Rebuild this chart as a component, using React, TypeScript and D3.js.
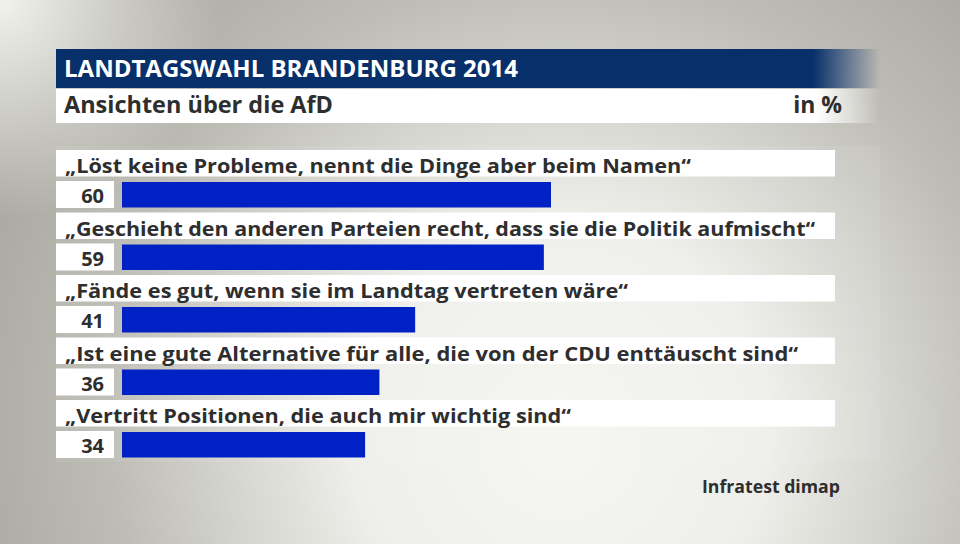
import React from "react";
import * as d3 from "d3";

const title = "LANDTAGSWAHL BRANDENBURG 2014";
const subtitle = "Ansichten über die AfD";
const unitLabel = "in %";
const source = "Infratest dimap";

const categories = [
  "„Löst keine Probleme, nennt die Dinge aber beim Namen“",
  "„Geschieht den anderen Parteien recht, dass sie die Politik aufmischt“",
  "„Fände es gut, wenn sie im Landtag vertreten wäre“",
  "„Ist eine gute Alternative für alle, die von der CDU enttäuscht sind“",
  "„Vertritt Positionen, die auch mir wichtig sind“",
];
const values = [60, 59, 41, 36, 34];
// measured text widths of the labels in the reference
const labelWidths = [626, 750, 563, 733, 506];

const W = 960;
const H = 544;
const FONT = "'Open Sans', 'DejaVu Sans', sans-serif";
const TEXT = "#2e2e2e";
const BAR = "#0022c4";
const NAVY = "#072f6a";

export default function App() {
  const x = d3.scaleLinear().domain([0, 60]).range([122, 551]);
  const y = d3
    .scaleBand<string>()
    .domain(categories)
    .range([150, 150 + 62.5 * categories.length])
    .paddingInner(0)
    .paddingOuter(0);

  return (
    <svg
      width={W}
      height={H}
      style={{ position: "absolute", left: 0, top: 0, display: "block" }}
    >
      <defs>
        <radialGradient
          id="bg"
          gradientUnits="userSpaceOnUse"
          cx={560}
          cy={420}
          r={600}
          fx={560}
          fy={440}
        >
          <stop offset="0" stopColor="#f6f6f2" />
          <stop offset="0.35" stopColor="#eeeeea" />
          <stop offset="0.75" stopColor="#bdbcb5" />
          <stop offset="1" stopColor="#abaaa2" />
        </radialGradient>
        <radialGradient
          id="spot"
          gradientUnits="userSpaceOnUse"
          cx={0}
          cy={0}
          r={220}
        >
          <stop offset="0" stopColor="#fafaf6" stopOpacity={0.9} />
          <stop offset="1" stopColor="#fafaf6" stopOpacity={0} />
        </radialGradient>
        <linearGradient id="navyFade" x1="0" x2="1" y1="0" y2="0">
          <stop offset="0" stopColor={NAVY} stopOpacity={1} />
          <stop offset={(813 - 56) / (880 - 56)} stopColor={NAVY} stopOpacity={1} />
          <stop offset="1" stopColor={NAVY} stopOpacity={0} />
        </linearGradient>
        <linearGradient id="whiteFade" x1="0" x2="1" y1="0" y2="0">
          <stop offset="0" stopColor="#fff" stopOpacity={1} />
          <stop offset={(815 - 56) / (880 - 56)} stopColor="#fff" stopOpacity={1} />
          <stop offset="1" stopColor="#fff" stopOpacity={0} />
        </linearGradient>
      </defs>
      <rect x={0} y={0} width={W} height={H} fill="url(#bg)" />
      <rect x={0} y={0} width={W} height={H} fill="url(#spot)" />

      {/* header */}
      <rect x={56} y={49} width={824} height={39} fill="url(#navyFade)" />
      <text
        x={64}
        y={77}
        fill="#fff"
        fontFamily={FONT}
        fontWeight={700}
        fontSize={24}
        textLength={454}
        lengthAdjust="spacingAndGlyphs"
      >
        {title}
      </text>
      <rect x={56} y={89} width={824} height={34} fill="url(#whiteFade)" />
      <text
        x={64}
        y={113}
        fill={TEXT}
        fontFamily={FONT}
        fontWeight={700}
        fontSize={23}
        textLength={269}
        lengthAdjust="spacingAndGlyphs"
      >
        {subtitle}
      </text>
      <text
        x={842}
        y={113}
        fill={TEXT}
        fontFamily={FONT}
        fontWeight={700}
        fontSize={23}
        textAnchor="end"
      >
        {unitLabel}
      </text>

      {/* translucent backdrop */}
      <rect x={56} y={146} width={824} height={316} fill="#fff" opacity={0.07} />

      {categories.map((c, i) => {
        const top = y(c)!;
        return (
          <g key={c}>
            <rect x={56} y={top} width={779} height={26.5} fill="#fff" />
            <text
              x={65}
              y={top + 23}
              fill={TEXT}
              fontFamily={FONT}
              fontWeight={700}
              fontSize={19.5}
              textLength={labelWidths[i]}
              lengthAdjust="spacingAndGlyphs"
            >
              {c}
            </text>
            <rect x={56} y={top + 31} width={58} height={27} fill="#fff" />
            <text
              x={104}
              y={top + 53}
              fill={TEXT}
              fontFamily={FONT}
              fontWeight={700}
              fontSize={20}
              textAnchor="end"
            >
              {values[i]}
            </text>
            <rect
              x={x(0)}
              y={top + 32}
              width={x(values[i]) - x(0)}
              height={25.5}
              fill={BAR}
            />
          </g>
        );
      })}

      <text
        x={840}
        y={493}
        fill={TEXT}
        fontFamily={FONT}
        fontWeight={700}
        fontSize={17}
        textAnchor="end"
        textLength={138}
        lengthAdjust="spacingAndGlyphs"
      >
        {source}
      </text>
    </svg>
  );
}
